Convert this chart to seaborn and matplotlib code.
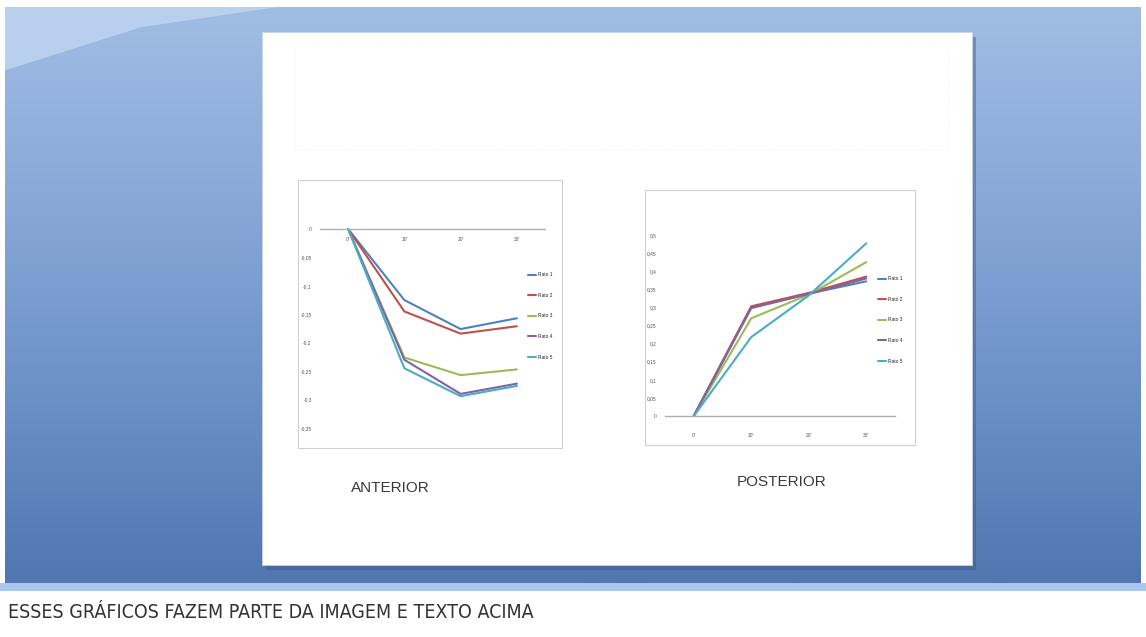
import numpy as np
import pandas as pd
import matplotlib
matplotlib.use("Agg")
import matplotlib.pyplot as plt
import seaborn as sns
from matplotlib.patches import Rectangle, Polygon

# --- data ---
tempos = ["0'", "10'", "20'", "30'"]
series = ["Rato 1", "Rato 2", "Rato 3", "Rato 4", "Rato 5"]
cores = ["#4F81BD", "#C0504D", "#9BBB59", "#8064A2", "#4BACC6"]

anterior_r1 = [0, -0.125, -0.176, -0.157]
anterior_r2 = [0, -0.145, -0.184, -0.171]
anterior_r3 = [0, -0.226, -0.257, -0.247]
anterior_r4 = [0, -0.230, -0.290, -0.272]
anterior_r5 = [0, -0.245, -0.294, -0.276]

posterior_r1 = [0, 0.300, 0.338, 0.372]
posterior_r2 = [0, 0.303, 0.340, 0.385]
posterior_r3 = [0, 0.270, 0.335, 0.425]
posterior_r4 = [0, 0.298, 0.337, 0.380]
posterior_r5 = [0, 0.218, 0.333, 0.477]

anterior_yticks = [0, -0.05, -0.1, -0.15, -0.2, -0.25, -0.3, -0.35]
posterior_yticks = [0, 0.05, 0.1, 0.15, 0.2, 0.25, 0.3, 0.35, 0.4, 0.45, 0.5]


def long_df(cols):
    rows = []
    for nome, vals in zip(series, cols):
        for i, v in enumerate(vals):
            rows.append({"tempo": i, "valor": v, "serie": nome})
    return pd.DataFrame(rows)


df_ant = long_df([anterior_r1, anterior_r2, anterior_r3, anterior_r4, anterior_r5])
df_post = long_df([posterior_r1, posterior_r2, posterior_r3, posterior_r4, posterior_r5])

sns.set_theme(style="white")
plt.rcParams["font.family"] = ["Liberation Sans", "DejaVu Sans"]

W, H = 1146, 637
fig = plt.figure(figsize=(W / 100, H / 100), dpi=100)
fig.patch.set_facecolor("white")


def fx(px):
    return px / W


def fy(py):
    return 1 - py / H


# slide background gradient
bg = fig.add_axes([fx(5), fy(583), fx(1141) - fx(5), fy(7) - fy(583)])
grad = np.linspace(0, 1, 256).reshape(-1, 1)
cmap = matplotlib.colors.LinearSegmentedColormap.from_list(
    "bg", ["#a0bde4", "#88a8d8", "#6c91c7", "#5276b0"])
bg.imshow(grad, aspect="auto", cmap=cmap, extent=[0, 1, 0, 1], origin="upper")
bg.add_patch(Polygon([(0, 1), (0.24, 1), (0.12, 0.965), (0, 0.89)],
                     closed=True, facecolor="#bcd3ef", edgecolor="none", alpha=0.9))
bg.set_xlim(0, 1)
bg.set_ylim(0, 1)
bg.axis("off")

# light band and white caption strip
fig.patches.append(Rectangle((0, fy(591)), 1, fy(583) - fy(591), transform=fig.transFigure,
                             facecolor="#a9c7ec", edgecolor="none", zorder=1))
fig.text(fx(8), fy(612), "ESSES GRÁFICOS FAZEM PARTE DA IMAGEM E TEXTO ACIMA",
         fontsize=14, color="#333333", va="center", ha="left",
         family=["DejaVu Sans"], fontstretch="condensed")

# white slide with shadow
fig.patches.append(Rectangle((fx(266), fy(570)), fx(972) - fx(262), fy(32) - fy(565),
                             transform=fig.transFigure, facecolor="#3f5a85",
                             edgecolor="none", alpha=0.45, zorder=2))
fig.patches.append(Rectangle((fx(262), fy(565)), fx(972) - fx(262), fy(32) - fy(565),
                             transform=fig.transFigure, facecolor="white",
                             edgecolor="#c8d3e3", lw=0.6, zorder=3))
# faint title placeholder
fig.patches.append(Rectangle((fx(295), fy(150)), fx(948) - fx(295), fy(45) - fy(150),
                             transform=fig.transFigure, facecolor="none",
                             edgecolor="#eeeeee", lw=0.6, ls=":", zorder=4))

# chart frames
for (x0, y0, x1, y1) in [(298, 180, 562, 448), (645, 190, 915, 445)]:
    fig.patches.append(Rectangle((fx(x0), fy(y1)), fx(x1) - fx(x0), fy(y0) - fy(y1),
                                 transform=fig.transFigure, facecolor="white",
                                 edgecolor="#cfcfcf", lw=0.8, zorder=4))


def style_axes(ax, yticks, ylim, legend_xy):
    ax.set_zorder(5)
    ax.set_facecolor("none")
    ax.set_xlim(-0.5, 3.5)
    ax.set_ylim(*ylim)
    ax.set_xticks(range(len(tempos)))
    ax.set_xticklabels(tempos)
    ax.set_yticks(yticks)
    ax.set_yticklabels([("%g" % t).replace(".", ",") for t in yticks])
    for s in ["top", "right", "left"]:
        ax.spines[s].set_visible(False)
    ax.spines["bottom"].set_position(("data", 0))
    ax.spines["bottom"].set_color("#b0b0b0")
    ax.spines["bottom"].set_linewidth(1.0)
    ax.tick_params(axis="both", labelsize=3.5, colors="#555555", length=0, pad=6)
    ax.set_xlabel("")
    ax.set_ylabel("")
    for line in ax.lines:
        line.set_clip_on(False)
    leg = ax.legend(loc="upper left", bbox_to_anchor=legend_xy,
                    bbox_transform=fig.transFigure, frameon=False, fontsize=3.5,
                    handlelength=1.6, labelspacing=3.2, handletextpad=0.3)
    for h in leg.get_lines():
        h.set_linewidth(1.5)


# ANTERIOR
ax1 = fig.add_axes([fx(320), fy(428), fx(545) - fx(320), fy(229) - fy(428)])
sns.lineplot(data=df_ant, x="tempo", y="valor", hue="serie", palette=cores,
             linewidth=1.5, ax=ax1)
style_axes(ax1, anterior_yticks, (-0.35, 0), (fx(524), fy(268)))

# POSTERIOR
ax2 = fig.add_axes([fx(665), fy(416), fx(895) - fx(665), fy(235) - fy(416)])
sns.lineplot(data=df_post, x="tempo", y="valor", hue="serie", palette=cores,
             linewidth=1.5, ax=ax2)
style_axes(ax2, posterior_yticks, (0, 0.5), (fx(874), fy(272)))
ax2.tick_params(axis="x", pad=12)

fig.text(fx(390), fy(488), "ANTERIOR", fontsize=11, color="#3a3a3a",
         ha="center", va="center", zorder=6)
fig.text(fx(782), fy(482), "POSTERIOR", fontsize=11, color="#3a3a3a",
         ha="center", va="center", zorder=6)

fig.savefig("out.png", dpi=100)
